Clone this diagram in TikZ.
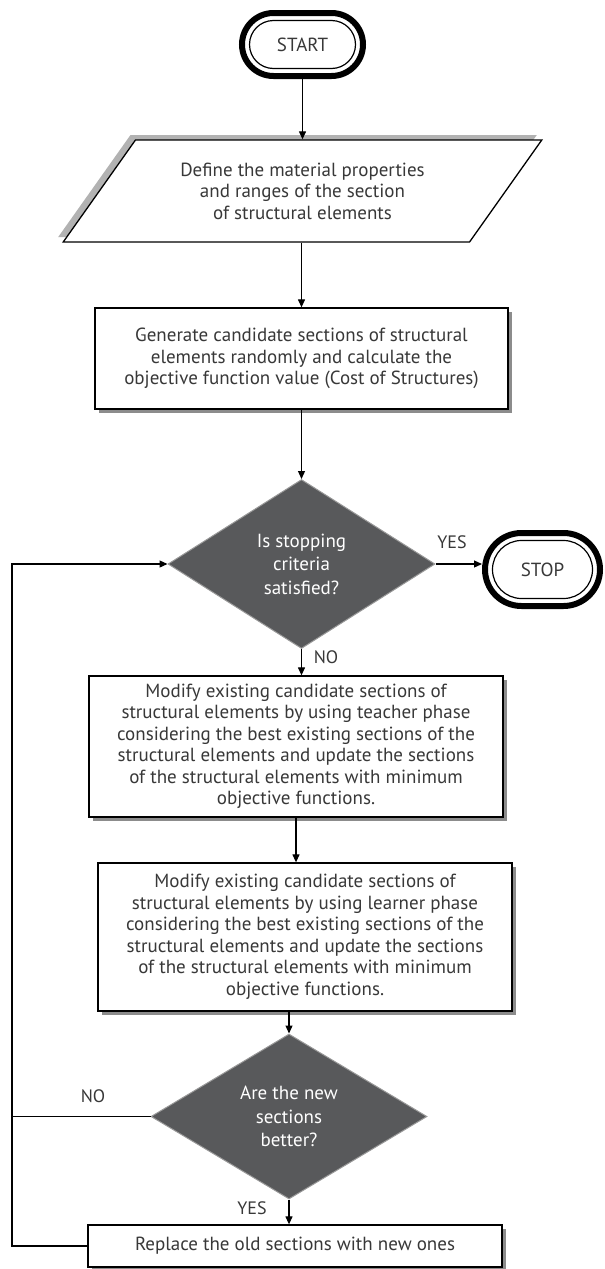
\documentclass[tikz,border=0pt]{standalone}
\usepackage{fontspec}
\setmainfont{PT Sans}
\usetikzlibrary{shapes.geometric,shapes.misc,shadows,arrows.meta}
\definecolor{decisionfill}{HTML}{58595B}
\definecolor{ink}{HTML}{383838}

\begin{document}
\begin{tikzpicture}[x=1pt, y=-1pt,
    every node/.style={font=\fontsize{19}{21.5}\selectfont, text=ink, align=center, inner sep=0pt},
    term/.style={rounded rectangle, draw, line width=6pt},
    terminner/.style={rounded rectangle, draw, line width=1.2pt},
    process/.style={rectangle, draw, line width=1.3pt, fill=white,
      drop shadow={shadow xshift=3.5pt, shadow yshift=-3.5pt, fill=black!45, opacity=1}},
    decision/.style={diamond, draw=black!40, line width=1pt, fill=decisionfill, text=white,
      font=\fontsize{19}{23.5}\selectfont},
    flow/.style={line width=1.2pt, -{Triangle[length=8pt, width=7pt]}},
    tag/.style={font=\fontsize{18}{18}\selectfont}]
  \useasboundingbox (0,0) rectangle (605,1269);

  % Terminals
  \node[term, minimum width=121pt, minimum height=63pt] (start) at (302.5,44.5) {START};
  \node[terminner, minimum width=106pt, minimum height=48pt] (startin) at (start) {};
  \node[term, minimum width=115pt, minimum height=73pt] (stop) at (542.5,569.5) {STOP};
  \node[terminner, minimum width=100pt, minimum height=58pt] (stopin) at (stop) {};

  % Input
  \node[trapezium, trapezium left angle=47, trapezium right angle=133, trapezium stretches=true,
    minimum width=479pt, minimum height=102pt, draw, line width=1.3pt, fill=white,
    drop shadow={shadow xshift=-5pt, shadow yshift=5pt, fill=black!30, opacity=1}]
    (define) at (302.5,191) {Define the material properties\\and ranges of the section\\of structural elements};

  % Process steps
  \node[process, minimum width=413pt, minimum height=101pt] (generate) at (301.5,358.5)
    {Generate candidate sections of structural\\elements randomly and calculate the\\objective function value (Cost of Structures)};
  \node[decision, minimum width=267pt, minimum height=169pt] (check) at (301.5,564)
    {Is stopping\\criteria\\satisfied?};
  \node[process, minimum width=414pt, minimum height=141pt] (teach) at (296,746.5)
    {Modify existing candidate sections of\\structural elements by using teacher phase\\considering the best existing sections of the\\structural elements and update the sections\\of the structural elements with minimum\\objective functions.};
  \node[process, minimum width=414pt, minimum height=148pt] (learn) at (305,937)
    {Modify existing candidate sections of\\structural elements by using learner phase\\considering the best existing sections of the\\structural elements and update the sections\\of the structural elements with minimum\\objective functions.};
  \node[decision, minimum width=276pt, minimum height=165pt] (better) at (289,1116.5)
    {Are the new\\sections\\better?};
  \node[process, minimum width=414pt, minimum height=42pt] (replace) at (295,1246)
    {Replace the old sections with new ones};

  \coordinate (loop) at (12,564);

  % Labels
  \node[tag] (yesstop) at (452,542) {YES};
  \node[tag] (nocheck) at (326,657) {NO};
  \node[tag] (nobetter) at (93,1096) {NO};
  \node[tag] (yesbetter) at (252,1208) {YES};

  % Connectors
  \draw[flow] (start.south) -- (start.south |- define.north);
  \draw[flow] (generate.north |- define.south) -- (generate.north);
  \draw[flow] (generate.south) -- (check.north);
  \draw[flow] (check.east) -- (check.east -| stop.west);
  \draw[flow] (check.south) -- (check.south |- teach.north);
  \draw[flow] (teach.south) -- (teach.south |- learn.north);
  \draw[flow] (better.north |- learn.south) -- (better.north);
  \draw[flow] (better.south) -- (better.south |- replace.north);
  \draw[flow] (replace.west) -| (loop) -- (check.west);
  \draw[line width=1.2pt] (better.west) -- (better.west -| loop);
\end{tikzpicture}
\end{document}
